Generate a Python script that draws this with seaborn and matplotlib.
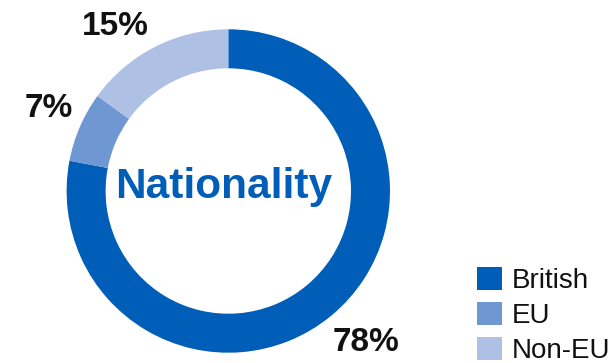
import matplotlib
matplotlib.use("Agg")
import matplotlib.pyplot as plt
from matplotlib.patches import Patch
import seaborn as sns
import pandas as pd

# Share of people by nationality (percent)
categories = ["British", "EU", "Non-EU"]
shares = [78, 7, 15]
colours = ["#005EB8", "#6F97D1", "#AEC1E5"]

df = pd.DataFrame({"nationality": categories, "share": shares})

sns.set_theme(style="white")
plt.rcParams["font.family"] = ["Liberation Sans", "DejaVu Sans"]
palette = sns.color_palette(colours)

W, H = 615, 363
fig = plt.figure(figsize=(W / 100, H / 100), dpi=100)
ax = fig.add_axes([0, 0, 1, 1])

# Ring geometry in pixel units (y measured upwards)
cx, cy = 228.3, H - 191.0
r_out, ring_w = 161.7, 39.0

wedges, _ = ax.pie(
    df["share"],
    colors=palette,
    startangle=90,
    counterclock=False,
    center=(cx, cy),
    radius=r_out,
    wedgeprops=dict(width=ring_w, linewidth=0),
    frame=False,
)
ax.set_xlim(0, W)
ax.set_ylim(0, H)
ax.set_aspect("equal")
ax.axis("off")

# Percentage labels outside the ring
label_pos = [(366, H - 351), (48.5, H - 117), (115.5, H - 35)]
for val, (x, y) in zip(df["share"], label_pos):
    ax.text(x, y, f"{val}%", ha="center", va="baseline",
            fontsize=24, fontweight="bold", color="#111111")

ax.text(223.5, H - 198, "Nationality", ha="center", va="baseline",
        fontsize=30.5, fontweight="bold", color="#005EB8")

handles = [Patch(facecolor=c, edgecolor="none", label=n)
           for n, c in zip(df["nationality"], palette)]
ax.legend(handles=handles, loc="upper left",
          bbox_to_anchor=(476.7 / W, 1 - 267 / H),
          frameon=False, fontsize=20, borderpad=0, borderaxespad=0,
          handlelength=0.9, handleheight=0.9, handletextpad=0.36,
          labelspacing=0.29, labelcolor="#111111")

fig.savefig("out.png", dpi=100)
